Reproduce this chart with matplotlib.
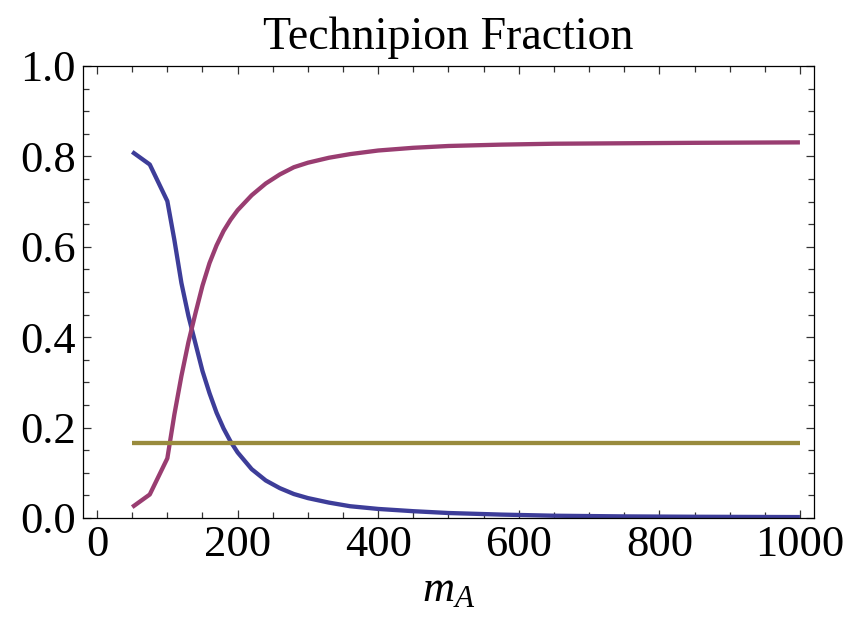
import matplotlib
matplotlib.use("Agg")
import matplotlib.pyplot as plt
from matplotlib.ticker import MultipleLocator

# values
m_a = [50, 75, 100, 110, 120, 130, 140, 150, 160, 170, 180, 190, 200, 220,
       240, 260, 280, 300, 330, 360, 400, 450, 500, 575, 650, 750, 850, 1000]
frac_blue = [0.810, 0.782, 0.701, 0.615, 0.520, 0.447, 0.386, 0.325, 0.276,
             0.233, 0.198, 0.169, 0.145, 0.108, 0.083, 0.066, 0.053, 0.044,
             0.034, 0.026, 0.020, 0.015, 0.011, 0.0075, 0.005, 0.0035,
             0.0027, 0.002]
frac_magenta = [0.024, 0.052, 0.132, 0.229, 0.314, 0.389, 0.453, 0.514, 0.564,
                0.603, 0.635, 0.660, 0.681, 0.714, 0.740, 0.760, 0.776, 0.786,
                0.797, 0.805, 0.813, 0.819, 0.823, 0.826, 0.828, 0.829,
                0.830, 0.831]
frac_const = [0.1667] * len(m_a)

plt.rcParams['font.family'] = ['Liberation Serif', 'DejaVu Serif']
plt.rcParams['mathtext.fontset'] = 'custom'
plt.rcParams['mathtext.it'] = 'Liberation Serif:italic'
plt.rcParams['mathtext.rm'] = 'Liberation Serif'

fig = plt.figure(figsize=(8.61, 6.29), dpi=100)
ax = fig.add_axes([0.0964, 0.1765, 0.849, 0.7186])

ax.plot(m_a, frac_blue, color='#3d3d99', lw=3.1, solid_capstyle='butt')
ax.plot(m_a, frac_magenta, color='#993d71', lw=3.1, solid_capstyle='butt')
ax.plot(m_a, frac_const, color='#998b3d', lw=3.1, solid_capstyle='butt')

ax.set_xlim(-20, 1020)
ax.set_ylim(0, 1)
ax.xaxis.set_major_locator(MultipleLocator(200))
ax.xaxis.set_minor_locator(MultipleLocator(50))
ax.yaxis.set_major_locator(MultipleLocator(0.2))
ax.yaxis.set_minor_locator(MultipleLocator(0.05))
ax.yaxis.set_major_formatter(plt.FormatStrFormatter('%.1f'))

ax.tick_params(which='both', direction='in', top=True, right=True,
               labelsize=32, color='#333333', width=0.9, pad=5)
ax.tick_params(which='major', length=6)
ax.tick_params(which='minor', length=4)
for s in ax.spines.values():
    s.set_linewidth(0.9)

ax.set_title('Technipion Fraction', fontsize=33, pad=12)
ax.set_xlabel('$m_A$', fontsize=32, labelpad=4)

fig.savefig('out.png', dpi=100)
